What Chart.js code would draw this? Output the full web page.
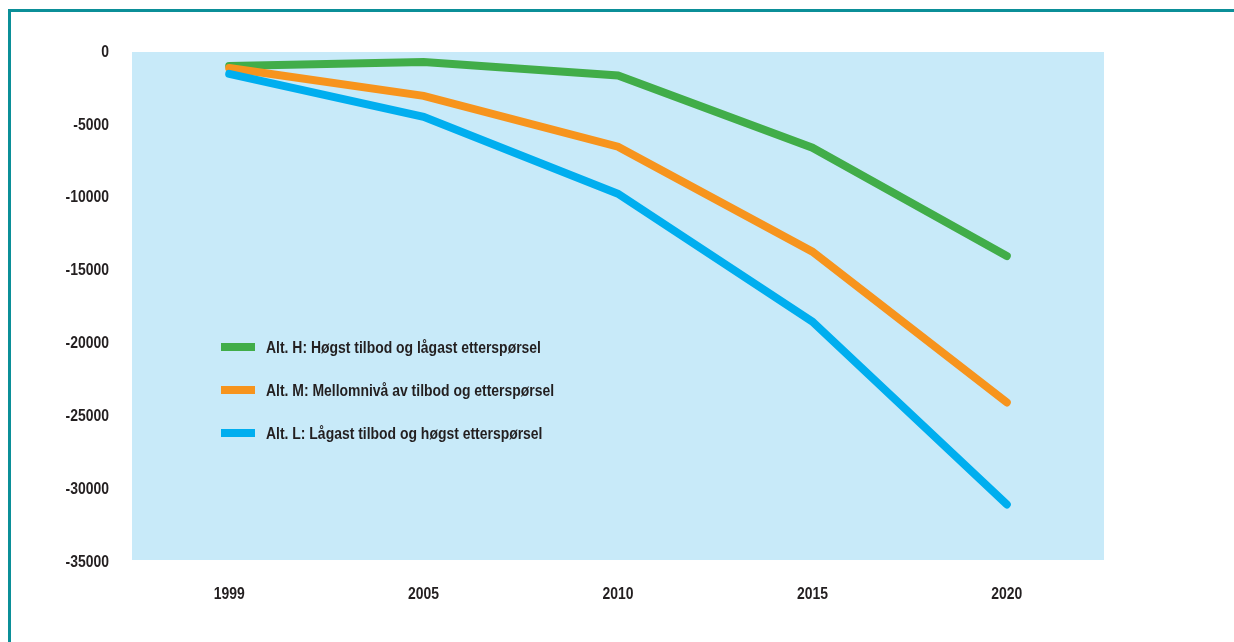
<!DOCTYPE html>
<html>
<head>
<meta charset="utf-8">
<script src="https://cdn.jsdelivr.net/npm/chart.js@4/dist/chart.umd.min.js"></script>
<style>
	html, body { margin: 0; padding: 0; background: #fff; }
	#wrap { position: relative; width: 1234px; height: 642px; overflow: hidden; }
	#frame { position: absolute; left: 8px; top: 9px; width: 1300px; height: 700px;
		border-left: 3px solid #0b8f98; border-top: 3px solid #0b8f98; pointer-events: none; }
</style>
</head>
<body>
<div id="wrap">
	<canvas id="chart" width="1234" height="642"></canvas>
	<div id="frame"></div>
</div>
<script>
var years = ['1999', '2005', '2010', '2015', '2020'];
var altH = [-960, -680, -1610, -6570, -14000];
var altM = [-1100, -3010, -6500, -13700, -24050];
var altL = [-1500, -4450, -9730, -18500, -31050];
var seriesNames = [
	'Alt. H: Høgst tilbod og lågast etterspørsel',
	'Alt. M: Mellomnivå av tilbod og etterspørsel',
	'Alt. L: Lågast tilbod og høgst etterspørsel'
];
var seriesColors = ['#41ad49', '#f7941d', '#00aeef'];

var FONT = "bold 17px 'Liberation Sans', Arial, sans-serif";
var SQUEEZE = 0.82; // the original type is a condensed face
var TEXT = '#231f20';

function narrowText(ctx, txt, x, y, align) {
	ctx.save();
	ctx.translate(x, y);
	ctx.scale(SQUEEZE, 1);
	ctx.font = FONT;
	ctx.fillStyle = TEXT;
	ctx.textAlign = align;
	ctx.textBaseline = 'middle';
	ctx.fillText(txt, 0, 0);
	ctx.restore();
}

// light blue plot area
var plotBg = {
	id: 'plotBg',
	beforeDraw: function(chart) {
		var a = chart.chartArea, ctx = chart.ctx;
		ctx.save();
		ctx.fillStyle = '#c8eaf9';
		ctx.fillRect(a.left, a.top, a.right - a.left, a.bottom - a.top - 2);
		ctx.restore();
	}
};

// tick labels, condensed
var tickText = {
	id: 'tickText',
	afterDraw: function(chart) {
		var ctx = chart.ctx, xs = chart.scales.x, ys = chart.scales.y;
		ys.ticks.forEach(function(t, i) {
			narrowText(ctx, String(t.value), ys.right - 23, ys.getPixelForTick(i), 'right');
		});
		xs.ticks.forEach(function(t, i) {
			narrowText(ctx, years[t.value], xs.getPixelForTick(i), xs.top + 32, 'center');
		});
	}
};

// legend drawn inside the plot
var insideLegend = {
	id: 'insideLegend',
	afterDatasetsDraw: function(chart) {
		var a = chart.chartArea, ctx = chart.ctx;
		for (var i = 0; i < seriesNames.length; i++) {
			var y = a.top + 295 + i * 43;
			ctx.save();
			ctx.strokeStyle = seriesColors[i];
			ctx.lineWidth = 8;
			ctx.lineCap = 'butt';
			ctx.beginPath();
			ctx.moveTo(a.left + 89, y);
			ctx.lineTo(a.left + 123, y);
			ctx.stroke();
			ctx.restore();
			narrowText(ctx, seriesNames[i], a.left + 134, y + 1, 'left');
		}
	}
};

function line(label, data, color, order) {
	return {
		label: label,
		data: data,
		borderColor: color,
		backgroundColor: color,
		borderWidth: 8,
		borderCapStyle: 'round',
		borderJoinStyle: 'miter',
		pointRadius: 0,
		tension: 0,
		order: order
	};
}

new Chart(document.getElementById('chart'), {
	type: 'line',
	data: {
		labels: years,
		datasets: [
			line(seriesNames[0], altH, seriesColors[0], 3),
			line(seriesNames[1], altM, seriesColors[1], 2),
			line(seriesNames[2], altL, seriesColors[2], 1)
		]
	},
	options: {
		responsive: false,
		animation: false,
		layout: { padding: { top: 52, right: 130, bottom: 0, left: 0 } },
		plugins: { legend: { display: false }, tooltip: { enabled: false } },
		scales: {
			x: {
				offset: true,
				grid: { display: false, drawTicks: false },
				border: { display: false },
				ticks: { display: false },
				afterFit: function(s) { s.height = 80; }
			},
			y: {
				min: -35000,
				max: 0,
				grid: { display: false, drawTicks: false },
				border: { display: false },
				ticks: { display: false, stepSize: 5000 },
				afterFit: function(s) { s.width = 132; }
			}
		}
	},
	plugins: [plotBg, tickText, insideLegend]
});
</script>
</body>
</html>
